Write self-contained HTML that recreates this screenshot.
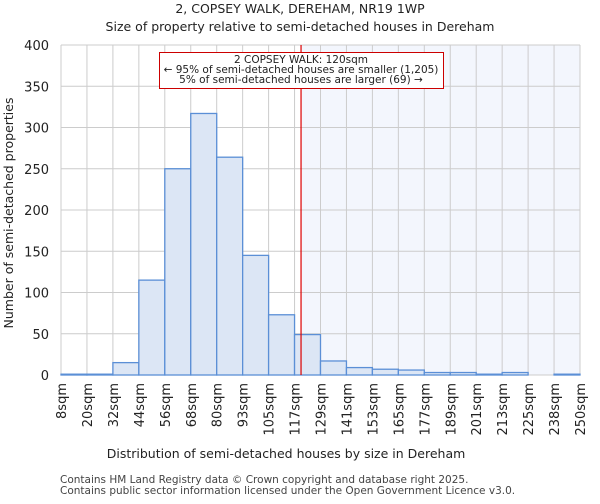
<!DOCTYPE html>
<html><head><meta charset="utf-8"><style>
body{margin:0;background:#fff;font-family:"DejaVu Sans","Liberation Sans",sans-serif;}
svg text{font-family:"DejaVu Sans","Liberation Sans",sans-serif;}
</style></head><body>
<svg id="c" width="600" height="500" xmlns="http://www.w3.org/2000/svg">
<text x="300" y="13" text-anchor="middle" font-size="12.5" fill="#222">2, COPSEY WALK, DEREHAM, NR19 1WP</text>
<text x="300" y="31" text-anchor="middle" font-size="12.5" fill="#222">Size of property relative to semi-detached houses in Dereham</text>
<g id="plot"></g>
<text x="286" y="458" text-anchor="middle" font-size="12.5" fill="#222">Distribution of semi-detached houses by size in Dereham</text>
<text transform="translate(13,213) rotate(-90)" text-anchor="middle" font-size="12.5" fill="#222">Number of semi-detached properties</text>
<text x="60" y="483" font-size="10.5" fill="#444">Contains HM Land Registry data © Crown copyright and database right 2025.</text>
<text x="60" y="494" font-size="10.5" fill="#444">Contains public sector information licensed under the Open Government Licence v3.0.</text>
</svg>
<script>
const categories=["8sqm","20sqm","32sqm","44sqm","56sqm","68sqm","80sqm","93sqm","105sqm","117sqm","129sqm","141sqm","153sqm","165sqm","177sqm","189sqm","201sqm","213sqm","225sqm","238sqm","250sqm"];
const counts=[1,1,15,115,250,317,264,145,73,49,17,9,7,6,3,3,1,3,0,1];
const yTicks=[0,50,100,150,200,250,300,350,400];
const propertyIndex=9.25; // position in bins for 120sqm
const NS="http://www.w3.org/2000/svg";
const L=61,R=580,T=45,B=375,yMax=400;
const nb=counts.length,bw=(R-L)/nb;
const xs=i=>L+i*bw;
const ys=v=>B-(v/yMax)*(B-T);
const g=document.getElementById('plot');
function mk(tag,a){const e=document.createElementNS(NS,tag);for(const k in a)e.setAttribute(k,a[k]);g.appendChild(e);return e;}
let e;
e=mk('rect',{x:xs(propertyIndex),y:T,width:R-xs(propertyIndex),height:B-T,fill:"#f3f6fd"});


for(let i=0;i<=nb;i++){e=mk('line',{x1:xs(i),x2:xs(i),y1:T,y2:B,stroke:"#ccc","stroke-width":1});

}
yTicks.forEach(v=>{e=mk('line',{x1:L,x2:R,y1:ys(v),y2:ys(v),stroke:"#ccc","stroke-width":1});


e=mk('text',{x:L-12,y:ys(v)+5,"text-anchor":"end","font-size":"13",fill:"#222"});e.textContent=v;

});
counts.forEach((c,i)=>{e=mk('rect',{x:xs(i),y:ys(c),width:bw,height:B-ys(c),fill:"#dce6f5",stroke:"#5b8fd6","stroke-width":1.3});

});
categories.forEach((c,i)=>{e=mk('text',{transform:`translate(${xs(i)+5},${B+8}) rotate(-90)`,"text-anchor":"end","font-size":"13",fill:"#222"});e.textContent=c;

});
e=mk('line',{x1:xs(propertyIndex),x2:xs(propertyIndex),y1:T,y2:B,stroke:"#d00","stroke-width":1.2});


e=mk('rect',{x:159.5,y:52.5,width:284,height:36,fill:"#fff",stroke:"#c00","stroke-width":1});


["2 COPSEY WALK: 120sqm","← 95% of semi-detached houses are smaller (1,205)","5% of semi-detached houses are larger (69) →"].forEach((t,i)=>{
e=mk('text',{x:301,y:63+i*10,"text-anchor":"middle","font-size":"10.5",fill:"#222"});e.textContent=t;

});
</script>
</body></html>
